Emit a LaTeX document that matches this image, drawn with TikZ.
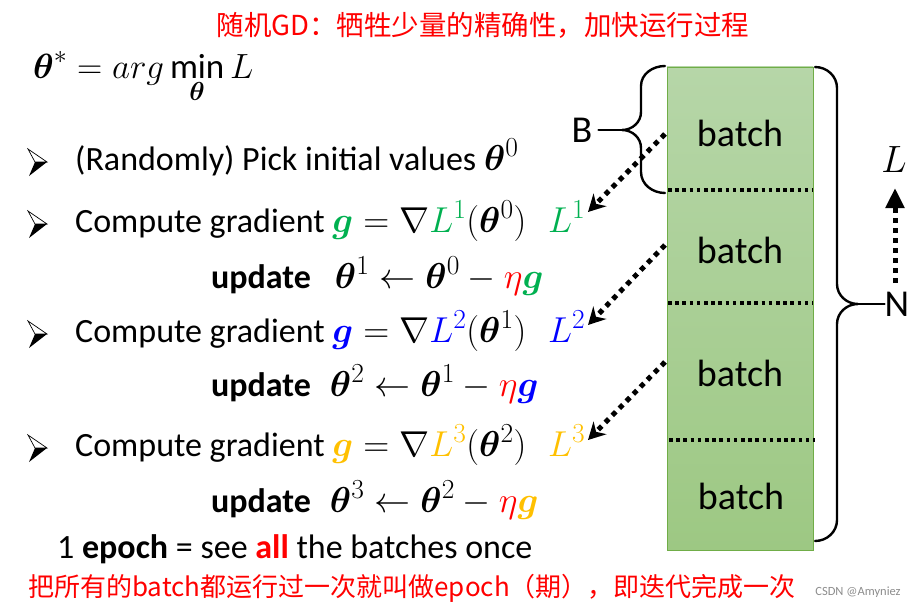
\RequirePackage{fix-cm}
\documentclass[tikz,border=0pt]{standalone}
\usepackage{amsmath,bm}
\usepackage{fontspec}
\setmainfont{Carlito}
\newfontfamily\cjk{Noto Sans CJK SC}
\DeclareMathSizes{34}{36}{27.5}{21}
\DeclareMathSizes{31}{35}{26}{20}
\DeclareMathSizes{38}{38}{29}{23}
\usetikzlibrary{arrows.meta}
\definecolor{pgreen}{RGB}{0,176,80}
\definecolor{pblue}{RGB}{0,0,255}
\definecolor{porange}{RGB}{255,192,0}
\definecolor{pred}{RGB}{255,0,0}
\definecolor{boxtop}{RGB}{182,214,168}
\definecolor{boxbot}{RGB}{157,200,131}
\definecolor{boxline}{RGB}{112,173,71}
\tikzset{
  txt/.style={anchor=base west, inner sep=0pt, font=\fontsize{34}{40}\selectfont},
  bt/.style={inner sep=0pt, font=\fontsize{38}{44}\selectfont},
  brace/.style={line width=2.4pt, line cap=round},
  sep/.style={line width=3.4pt, dash pattern=on 3.6pt off 3.6pt},
  darr/.style={line width=5pt, dash pattern=on 5pt off 5pt, -{Stealth[length=17pt,width=18pt]}},
  cjktxt/.style={inner sep=0pt, text=pred, font=\cjk\fontsize{26}{30}\selectfont},
  bulletpic/.pic={
    \draw[line width=0.7pt, line join=miter, fill=white] (-9,-13) -- (10,0) -- (-2,0) -- cycle;
    \fill (-2,0) -- (10,0) -- (-8,14) -- cycle;
  }
}
\begin{document}
\begin{tikzpicture}[x=1pt,y=-1pt]
\useasboundingbox (0,0) rectangle (921,610);
% title
\node[cjktxt, font=\cjk\fontsize{27.5}{32}\selectfont] (title) at (483,25) {随机GD：牺牲少量的精确性，加快运行过程};
% formula
\node[txt, font=\fontsize{31}{38}\selectfont] (f) at (33,78) {$\displaystyle \bm{\theta}^{*} = arg\min_{\bm{\theta}} L$};
% bullets and lines
\pic at (37,162) {bulletpic};
\node[txt] (l1) at (75,170) {(Randomly) Pick initial values $\bm{\theta}^{0}$};
\pic at (37,224) {bulletpic};
\node[txt] (l2) at (75,232) {Compute gradient $\textcolor{pgreen}{\bm{g}} = \nabla \textcolor{pgreen}{L^{1}}(\bm{\theta}^{0})$};
\node[txt, text=pgreen] (L1) at (548,232) {$L^{1}$};
\node[txt] (u1) at (211,288) {\textbf{update}\hspace{24pt}$\bm{\theta}^{1} \leftarrow \bm{\theta}^{0} - \textcolor{pred}{\eta}\textcolor{pgreen}{\bm{g}}$};
\pic at (37,334) {bulletpic};
\node[txt] (l3) at (75,342) {Compute gradient $\textcolor{pblue}{\bm{g}} = \nabla \textcolor{pblue}{L^{2}}(\bm{\theta}^{1})$};
\node[txt, text=pblue] (L2) at (548,342) {$L^{2}$};
\node[txt] (u2) at (211,396) {\textbf{update}\hspace{19pt}$\bm{\theta}^{2} \leftarrow \bm{\theta}^{1} - \textcolor{pred}{\eta}\textcolor{pblue}{\bm{g}}$};
\pic at (37,448) {bulletpic};
\node[txt] (l4) at (75,456) {Compute gradient $\textcolor{porange}{\bm{g}} = \nabla \textcolor{porange}{L^{3}}(\bm{\theta}^{2})$};
\node[txt, text=porange] (L3) at (548,456) {$L^{3}$};
\node[txt] (u3) at (211,512) {\textbf{update}\hspace{19pt}$\bm{\theta}^{3} \leftarrow \bm{\theta}^{2} - \textcolor{pred}{\eta}\textcolor{porange}{\bm{g}}$};
\node[txt] (ep) at (57,558) {1 \textbf{epoch} = see \textcolor{pred}{\textbf{all}} the batches once};
\node[cjktxt] (cn) at (412,588) {把所有的batch都运行过一次就叫做epoch（期），即迭代完成一次};
\node[inner sep=0pt, text=black!45, font=\fontsize{12.5}{14}\selectfont] (wm) at (858,592) {CSDN @Amyniez};
% box
\shade[top color=boxtop, bottom color=boxbot] (667,67) rectangle (813,550);
\draw[boxline, line width=0.8pt] (667,67) rectangle (813,550);
\coordinate (s1a) at (668,190); \coordinate (s1b) at (813,190);
\coordinate (s2a) at (668,303); \coordinate (s2b) at (813,303);
\coordinate (s3a) at (669,440); \coordinate (s3b) at (815,440);
\draw[sep] (s1a) -- (s1b);
\draw[sep] (s2a) -- (s2b);
\draw[sep] (s3a) -- (s3b);
\node[bt] (bt1) at (740,133) {batch};
\node[bt] (bt2) at (740,250) {batch};
\node[bt] (bt3) at (740,373) {batch};
\node[bt] (bt4) at (741,496) {batch};
% left brace B
\coordinate (btip) at (622,130);
\draw[brace] (665,66) to[out=180,in=90] (641,86) -- (641,112) to[out=-90,in=0] (btip)
  to[out=0,in=90] (641,148) -- (641,172) to[out=-90,in=180] (665,193);
\node[bt] (B) at (582,130) {B};
\draw[brace] (B.east) ++(6pt,0) -- (btip);
% right brace N
\coordinate (ntip) at (858,304);
\draw[brace] (815,67) to[out=0,in=90] (837,88) -- (837,284) to[out=-90,in=180] (ntip)
  to[out=180,in=90] (837,324) -- (837,520) to[out=-90,in=0] (815,541);
\node[bt] (N) at (897,304) {N};
\draw[brace] (ntip) -- (N.west);
% L arrow
\node[inner sep=0pt, font=\fontsize{38}{44}\selectfont] (Lr) at (894,160) {$L$};
\coordinate (la) at (895,283);
\coordinate (lt) at (895,188);
\draw[line width=5pt, dash pattern=on 5pt off 5pt, -{Triangle[length=20pt,width=18pt]}] (la) -- (lt);
% dotted arrows
\coordinate (a1s) at (665,134); \coordinate (a1e) at (588,212);
\coordinate (a2s) at (665,245); \coordinate (a2e) at (588,325);
\coordinate (a3s) at (665,362); \coordinate (a3e) at (588,440);
\draw[darr] (a1s) -- (a1e);
\draw[darr] (a2s) -- (a2e);
\draw[darr] (a3s) -- (a3e);
\end{tikzpicture}
\end{document}
